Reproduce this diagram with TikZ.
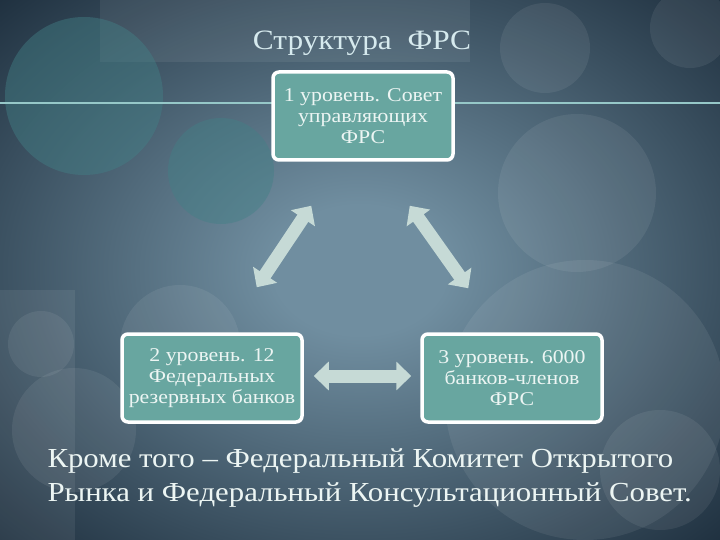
\documentclass[tikz,border=0pt]{standalone}
\usepackage{fontspec}
\setmainfont[FakeStretch=1.12]{Liberation Serif}
\usetikzlibrary{arrows.meta}
\definecolor{bgdark}{RGB}{30,47,62}
\definecolor{bgmid}{RGB}{112,142,160}
\definecolor{boxfill}{RGB}{104,166,160}
\definecolor{arrfill}{RGB}{198,218,214}
\definecolor{titlecol}{RGB}{214,234,238}
\definecolor{textcol}{RGB}{236,245,243}
\definecolor{circteal}{RGB}{66,128,134}
\definecolor{linecol}{RGB}{150,200,200}
\pgfdeclareradialshading{slidebg}{\pgfpoint{0bp}{0bp}}{color(0bp)=(bgmid); color(6bp)=(bgmid); color(36bp)=(bgdark); color(50bp)=(bgdark)}
\begin{document}
\begin{tikzpicture}[x=1pt, y=-1pt,
    lvl/.style={draw=white, line width=3.5pt, fill=boxfill, rounded corners=6pt,
      minimum width=180pt, minimum height=88pt, align=center, text=textcol,
      font=\fontsize{19.5}{21}\selectfont, inner sep=2pt},
    blockarr/.style={draw=arrfill, line width=13pt,
      {Triangle[width=28pt,length=15pt]}-{Triangle[width=28pt,length=15pt]}},
    bubble/.style={fill=white, fill opacity=0.07},
    tealbubble/.style={fill=circteal, fill opacity=0.45}]

  \useasboundingbox (0,0) rectangle (720,540);
  \shade[shading=slidebg] (0,0) rectangle (720,540);

  % background
  \fill[bubble] (100,0) rectangle (470,62);
  \fill[bubble] (0,290) rectangle (75,540);
  \fill[tealbubble] (84,96) circle (79);
  \fill[tealbubble] (221,171) circle (53);
  \fill[bubble] (577,193) circle (79);
  \fill[bubble] (545,48) circle (45);
  \fill[bubble] (690,28) circle (40);
  \fill[bubble] (41,344) circle (33);
  \fill[bubble] (74,430) circle (62);
  \fill[bubble] (180,345) circle (60);
  \fill[bubble] (585,400) circle (140);
  \fill[bubble] (660,470) circle (60);
  \draw[line width=2.5pt, draw=linecol] (0,103) -- (720,103);

  \node[font=\fontsize{28}{32}\selectfont, text=titlecol] (title) at (362,43) {Структура\ \ ФРС};

  \node[lvl] (lvl1) at (363,116) {1 уровень. Совет\\управляющих\\ФРС};
  \node[lvl] (lvl2) at (212,378) {2 уровень. 12\\Федеральных\\резервных банков};
  \node[lvl] (lvl3) at (512,378) {3 уровень. 6000\\банков-членов\\ФРС};

  \draw[blockarr] ([shift={(-47,-45)}]lvl2.north east) -- ([shift={(40,44)}]lvl1.south west);
  \draw[blockarr] ([shift={(-45,44)}]lvl1.south east) -- ([shift={(48,-44)}]lvl3.north west);
  \draw[blockarr] ([shift={(10,-2)}]lvl2.east) -- ([shift={(-9,-2)}]lvl3.west);

  \node[anchor=west, align=left, text=textcol, font=\fontsize{27.5}{34}\selectfont] (note) at (44,478)
    {Кроме того – Федеральный Комитет Открытого\\Рынка и Федеральный Консультационный Совет.};
\end{tikzpicture}
\end{document}
